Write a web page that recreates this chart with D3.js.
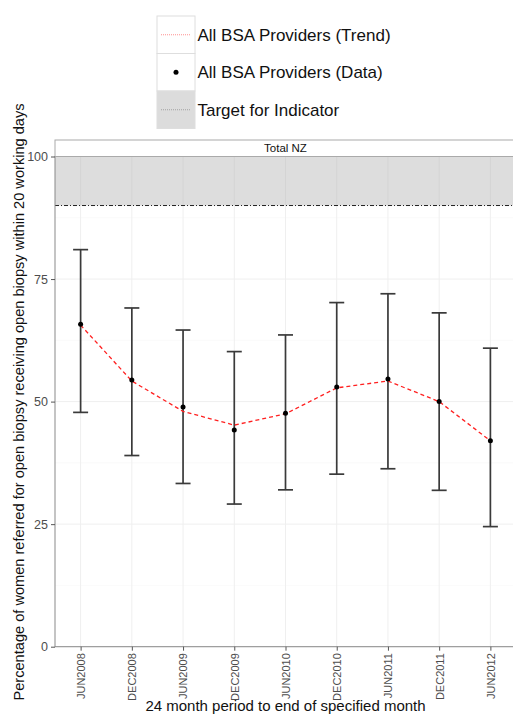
<!DOCTYPE html>
<html>
<head>
<meta charset="utf-8">
<script src="https://cdn.jsdelivr.net/npm/d3@7"></script>
<style>
  body { margin: 0; background: #fff; }
  svg { display: block; font-family: "Liberation Sans", Arial, sans-serif; }
</style>
</head>
<body>
<div id="chart-area"></div>
<script>
// data
var periods = ["JUN2008", "DEC2008", "JUN2009", "DEC2009", "JUN2010", "DEC2010", "JUN2011", "DEC2011", "JUN2012"];
var values = [65.8, 54.4, 48.9, 44.2, 47.6, 53.0, 54.6, 50.0, 42.0];
var lower = [47.8, 39.0, 33.3, 29.1, 32.0, 35.2, 36.3, 31.9, 24.5];
var upper = [81.0, 69.1, 64.6, 60.2, 63.6, 70.2, 72.0, 68.1, 60.9];
var trend = [65.6, 54.2, 48.0, 45.2, 47.5, 52.8, 54.2, 50.0, 42.0];
var targetRange = [90, 100];
var yTicks = [0, 25, 50, 75, 100];
var legendLabels = ["All BSA Providers (Trend)", "All BSA Providers (Data)", "Target for Indicator"];

var W = 513, H = 715;
var margin = { left: 55, right: -3, top: 156.5, bottom: 68.3 };
var width = W - margin.left - margin.right,
    height = H - margin.top - margin.bottom;

var svg = d3.select("#chart-area").append("svg")
    .attr("width", W)
    .attr("height", H);

var g = svg.append("g")
    .attr("transform", "translate(" + margin.left + "," + margin.top + ")");

// Scales
var x = d3.scalePoint().domain(periods).range([0, width]).padding(0.5);
var y = d3.scaleLinear().domain([0, 100]).range([height, 0]);

// minor grid
g.selectAll("line.minor")
    .data([12.5, 37.5, 62.5, 87.5])
    .enter().append("line")
    .attr("x1", 0).attr("x2", width)
    .attr("y1", d => y(d)).attr("y2", d => y(d))
    .attr("stroke", "#f7f7f7").attr("stroke-width", 0.6);

// major grid
g.selectAll("line.hgrid")
    .data(yTicks)
    .enter().append("line")
    .attr("x1", 0).attr("x2", width)
    .attr("y1", d => y(d)).attr("y2", d => y(d))
    .attr("stroke", "#efefef").attr("stroke-width", 1);

g.selectAll("line.vgrid")
    .data(periods)
    .enter().append("line")
    .attr("x1", d => x(d)).attr("x2", d => x(d))
    .attr("y1", 0).attr("y2", height)
    .attr("stroke", "#efefef").attr("stroke-width", 1);

// target band
g.append("rect")
    .attr("x", 0).attr("width", width)
    .attr("y", y(targetRange[1]))
    .attr("height", y(targetRange[0]) - y(targetRange[1]))
    .attr("fill", "#b4b4b4").attr("fill-opacity", 0.45);

g.append("line")
    .attr("x1", 0).attr("x2", width)
    .attr("y1", y(targetRange[0])).attr("y2", y(targetRange[0]))
    .attr("stroke", "#222").attr("stroke-width", 1)
    .attr("stroke-dasharray", "4,2,1,2");

// error bars
var capW = 7.5;
var bars = g.selectAll("g.err")
    .data(periods)
    .enter().append("g")
    .attr("class", "err");

bars.append("line")
    .attr("x1", d => x(d)).attr("x2", d => x(d))
    .attr("y1", (d, i) => y(upper[i])).attr("y2", (d, i) => y(lower[i]));
bars.append("line")
    .attr("x1", d => x(d) - capW).attr("x2", d => x(d) + capW)
    .attr("y1", (d, i) => y(upper[i])).attr("y2", (d, i) => y(upper[i]));
bars.append("line")
    .attr("x1", d => x(d) - capW).attr("x2", d => x(d) + capW)
    .attr("y1", (d, i) => y(lower[i])).attr("y2", (d, i) => y(lower[i]));
bars.selectAll("line")
    .attr("stroke", "#3a3a3a").attr("stroke-width", 1.7);

// trend line
var lineGenerator = d3.line()
    .x(function (d, i) { return x(periods[i]); })
    .y(function (d) { return y(d); });

g.append("path")
    .attr("d", lineGenerator(trend))
    .attr("fill", "none")
    .attr("stroke", "#ff2020")
    .attr("stroke-width", 1.3)
    .attr("stroke-dasharray", "4,3");

// points
g.selectAll("circle.pt")
    .data(values)
    .enter().append("circle")
    .attr("cx", (d, i) => x(periods[i]))
    .attr("cy", d => y(d))
    .attr("r", 2.5)
    .attr("fill", "#000");

// panel border
g.append("rect")
    .attr("x", 0).attr("y", 0)
    .attr("width", width).attr("height", height)
    .attr("fill", "none").attr("stroke", "#8a8a8a").attr("stroke-width", 1);

// strip
g.append("rect")
    .attr("x", 0).attr("y", -16.5)
    .attr("width", width).attr("height", 16.5)
    .attr("fill", "#fff").attr("stroke", "#aaa").attr("stroke-width", 1);
g.append("text")
    .attr("x", (x(periods[0]) + x(periods[periods.length - 1])) / 2)
    .attr("y", -4.5)
    .attr("text-anchor", "middle")
    .attr("font-size", "11.5px")
    .attr("fill", "#111")
    .text("Total NZ");

// axes
var yAxisCall = d3.axisLeft(y).tickValues(yTicks).tickSize(4).tickPadding(3);
var yAxis = g.append("g").attr("class", "y axis").call(yAxisCall);
yAxis.select(".domain").remove();
yAxis.selectAll("line").attr("stroke", "#555");
yAxis.selectAll("text").attr("font-size", "12.5px").attr("fill", "#4d4d4d")
    .attr("font-family", "Liberation Sans, Arial, sans-serif");

var xAxisCall = d3.axisBottom(x).tickSize(4).tickPadding(3);
var xAxis = g.append("g").attr("class", "x axis")
    .attr("transform", "translate(0," + height + ")")
    .call(xAxisCall);
xAxis.select(".domain").remove();
xAxis.selectAll("line").attr("stroke", "#555");
xAxis.selectAll("text")
    .attr("font-size", "11px").attr("fill", "#4d4d4d")
    .attr("font-family", "Liberation Sans, Arial, sans-serif")
    .attr("transform", "rotate(-90)")
    .attr("text-anchor", "end")
    .attr("x", -6.5)
    .attr("y", 0)
    .attr("dy", "0.35em");

// axis titles
svg.append("text")
    .attr("x", margin.left + (x(periods[0]) + x(periods[periods.length - 1])) / 2)
    .attr("y", 711)
    .attr("text-anchor", "middle")
    .attr("font-size", "15px")
    .attr("fill", "#111")
    .text("24 month period to end of specified month");

svg.append("text")
    .attr("transform", "translate(24,402) rotate(-90)")
    .attr("text-anchor", "middle")
    .attr("font-size", "14.6px")
    .attr("fill", "#111")
    .text("Percentage of women referred for open biopsy receiving open biopsy within 20 working days");

// legend
var legend = svg.append("g").attr("transform", "translate(157,16)");
var keyH = 37.5, keyW = 38;
var keys = legend.selectAll("g.key")
    .data(legendLabels)
    .enter().append("g")
    .attr("transform", (d, i) => "translate(0," + i * keyH + ")");

keys.append("rect")
    .attr("width", keyW).attr("height", keyH)
    .attr("fill", (d, i) => i === 2 ? "#dcdcdc" : "#fff")
    .attr("stroke", "#dedede").attr("stroke-width", 1);

keys.filter((d, i) => i === 0).append("line")
    .attr("x1", 4).attr("x2", keyW - 4)
    .attr("y1", keyH / 2).attr("y2", keyH / 2)
    .attr("stroke", "#ff6060").attr("stroke-width", 0.7)
    .attr("stroke-dasharray", "1,1");

keys.filter((d, i) => i === 1).append("circle")
    .attr("cx", keyW / 2).attr("cy", keyH / 2)
    .attr("r", 2.5).attr("fill", "#000");

keys.filter((d, i) => i === 2).append("line")
    .attr("x1", 4).attr("x2", keyW - 4)
    .attr("y1", keyH / 2).attr("y2", keyH / 2)
    .attr("stroke", "#888").attr("stroke-width", 0.7)
    .attr("stroke-dasharray", "1,1");

keys.append("text")
    .attr("x", keyW + 2.5)
    .attr("y", keyH / 2)
    .attr("dy", "0.36em")
    .attr("font-size", "17px")
    .attr("fill", "#111")
    .text(d => d);
</script>
</body>
</html>
